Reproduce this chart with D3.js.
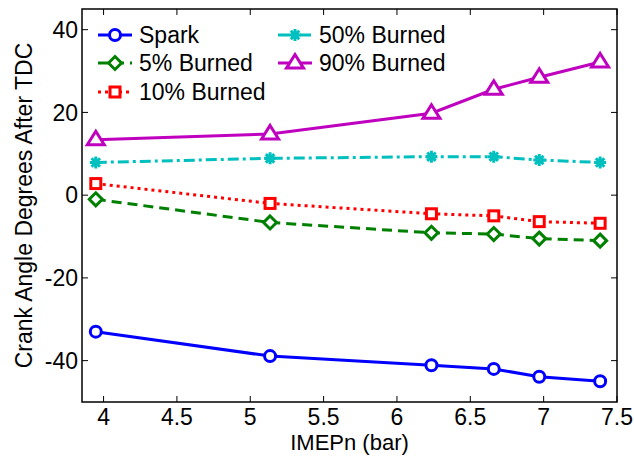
<!DOCTYPE html>
<html>
<head>
<meta charset="utf-8">
<script src="https://cdn.jsdelivr.net/npm/d3@7"></script>
<style>
  body { margin: 0; background: #fff; }
  text { font-family: "Liberation Sans", Arial, sans-serif; fill: #000; }
</style>
</head>
<body>
<div id="chart"></div>
<script>
// IMEPn (bar) at each operating point
const imep = [3.947, 5.135, 6.235, 6.66, 6.97, 7.385];

const spark     = [-33.0, -38.9, -41.1, -42.0, -43.9, -45.0];
const burned5   = [-1.0, -6.6, -9.1, -9.4, -10.5, -11.0];
const burned10  = [2.8, -2.0, -4.5, -5.0, -6.4, -6.8];
const burned50  = [7.9, 8.9, 9.3, 9.3, 8.5, 7.9];
const burned90  = [13.4, 14.8, 19.8, 25.6, 28.5, 32.2];

const seriesNames = ["Spark", "5% Burned", "10% Burned", "50% Burned", "90% Burned"];
const xTicks = [4, 4.5, 5, 5.5, 6, 6.5, 7, 7.5];
const yTicks = [-40, -20, 0, 20, 40];

const width = 634, height = 456;
const margin = {left: 82, top: 9, right: 17, bottom: 54};

const svg = d3.select("#chart").append("svg")
    .attr("width", width)
    .attr("height", height);

const x = d3.scaleLinear().domain([3.853, 7.5]).range([margin.left, width - margin.right]);
const y = d3.scaleLinear().domain([-50, 45]).range([height - margin.bottom, margin.top]);

const series = [
  {name: seriesNames[0], values: spark,    color: "#0000ff", dash: null,        marker: "circle"},
  {name: seriesNames[1], values: burned5,  color: "#008000", dash: "10,6",      marker: "diamond"},
  {name: seriesNames[2], values: burned10, color: "#ff0000", dash: "3,4",       marker: "square"},
  {name: seriesNames[3], values: burned50, color: "#00bfbf", dash: "11,4,3,4",  marker: "star"},
  {name: seriesNames[4], values: burned90, color: "#bf00bf", dash: null,        marker: "triangle"}
];

// axes, ticks inward on all four sides
const tickLen = 6;
const axisG = svg.append("g");
axisG.append("rect")
    .attr("x", x.range()[0]).attr("y", y.range()[1])
    .attr("width", x.range()[1] - x.range()[0])
    .attr("height", y.range()[0] - y.range()[1])
    .attr("fill", "none").attr("stroke", "#000").attr("stroke-width", 1.5);

xTicks.forEach(t => {
  axisG.append("line").attr("x1", x(t)).attr("x2", x(t))
      .attr("y1", y.range()[0]).attr("y2", y.range()[0] - tickLen)
      .attr("stroke", "#000").attr("stroke-width", 1);
  axisG.append("line").attr("x1", x(t)).attr("x2", x(t))
      .attr("y1", y.range()[1]).attr("y2", y.range()[1] + tickLen)
      .attr("stroke", "#000").attr("stroke-width", 1);
  axisG.append("text").attr("x", x(t)).attr("y", y.range()[0] + 23)
      .attr("text-anchor", "middle").attr("font-size", 23)
      .text(t);
});

yTicks.forEach(t => {
  axisG.append("line").attr("x1", x.range()[0]).attr("x2", x.range()[0] + tickLen)
      .attr("y1", y(t)).attr("y2", y(t))
      .attr("stroke", "#000").attr("stroke-width", 1);
  axisG.append("line").attr("x1", x.range()[1]).attr("x2", x.range()[1] - tickLen)
      .attr("y1", y(t)).attr("y2", y(t))
      .attr("stroke", "#000").attr("stroke-width", 1);
  axisG.append("text").attr("x", x.range()[0] - 4).attr("y", y(t))
      .attr("dy", "0.36em")
      .attr("text-anchor", "end").attr("font-size", 23)
      .text(t);
});

svg.append("text")
    .attr("x", (x.range()[0] + x.range()[1]) / 2).attr("y", 450)
    .attr("text-anchor", "middle").attr("font-size", 22)
    .text("IMEPn (bar)");

svg.append("text")
    .attr("transform", "translate(32," + ((y.range()[0] + y.range()[1]) / 2) + ") rotate(-90)")
    .attr("text-anchor", "middle").attr("font-size", 23)
    .text("Crank Angle Degrees After TDC");

function drawMarker(g, type, cx, cy, color) {
  if (type === "circle") {
    g.append("circle").attr("cx", cx).attr("cy", cy).attr("r", 5.5)
        .attr("fill", "#fff").attr("stroke", color).attr("stroke-width", 3);
  } else if (type === "square") {
    g.append("rect").attr("x", cx - 5).attr("y", cy - 5).attr("width", 10).attr("height", 10)
        .attr("fill", "#fff").attr("stroke", color).attr("stroke-width", 3);
  } else if (type === "diamond") {
    const s = 6.5;
    g.append("path").attr("d", `M${cx},${cy - s}L${cx + s},${cy}L${cx},${cy + s}L${cx - s},${cy}Z`)
        .attr("fill", "#fff").attr("stroke", color).attr("stroke-width", 3);
  } else if (type === "triangle") {
    const s = 8.5;
    g.append("path").attr("d", `M${cx},${cy - s}L${cx + s},${cy + s * 0.6}L${cx - s},${cy + s * 0.6}Z`)
        .attr("fill", "#fff").attr("stroke", color).attr("stroke-width", 3);
  } else if (type === "star") {
    const s = 6;
    let d = "";
    for (let i = 0; i < 4; i++) {
      const a = i * Math.PI / 4;
      d += `M${cx - s * Math.cos(a)},${cy - s * Math.sin(a)}L${cx + s * Math.cos(a)},${cy + s * Math.sin(a)}`;
    }
    g.append("path").attr("d", d).attr("stroke", color).attr("stroke-width", 3)
        .attr("stroke-linecap", "butt");
  }
}

const line = d3.line()
    .x((d, i) => x(imep[i]))
    .y(d => y(d));

const plot = svg.append("g");
series.forEach(s => {
  plot.append("path")
      .datum(s.values)
      .attr("d", line)
      .attr("fill", "none")
      .attr("stroke", s.color)
      .attr("stroke-width", 3)
      .attr("stroke-dasharray", s.dash);
});
series.forEach(s => {
  s.values.forEach((v, i) => drawMarker(plot, s.marker, x(imep[i]), y(v), s.color));
});

// legend
const legendPos = [[98, 35], [98, 63], [98, 92], [278, 35], [278, 63]];
const legend = svg.append("g");
series.forEach((s, i) => {
  const [lx, ly] = legendPos[i];
  legend.append("line").attr("x1", lx).attr("x2", lx + 34)
      .attr("y1", ly).attr("y2", ly)
      .attr("stroke", s.color).attr("stroke-width", 3)
      .attr("stroke-dasharray", s.dash);
  drawMarker(legend, s.marker, lx + 17, ly, s.color);
  legend.append("text").attr("x", lx + 41).attr("y", ly).attr("dy", "0.36em")
      .attr("font-size", 23).text(s.name);
});
</script>
</body>
</html>
